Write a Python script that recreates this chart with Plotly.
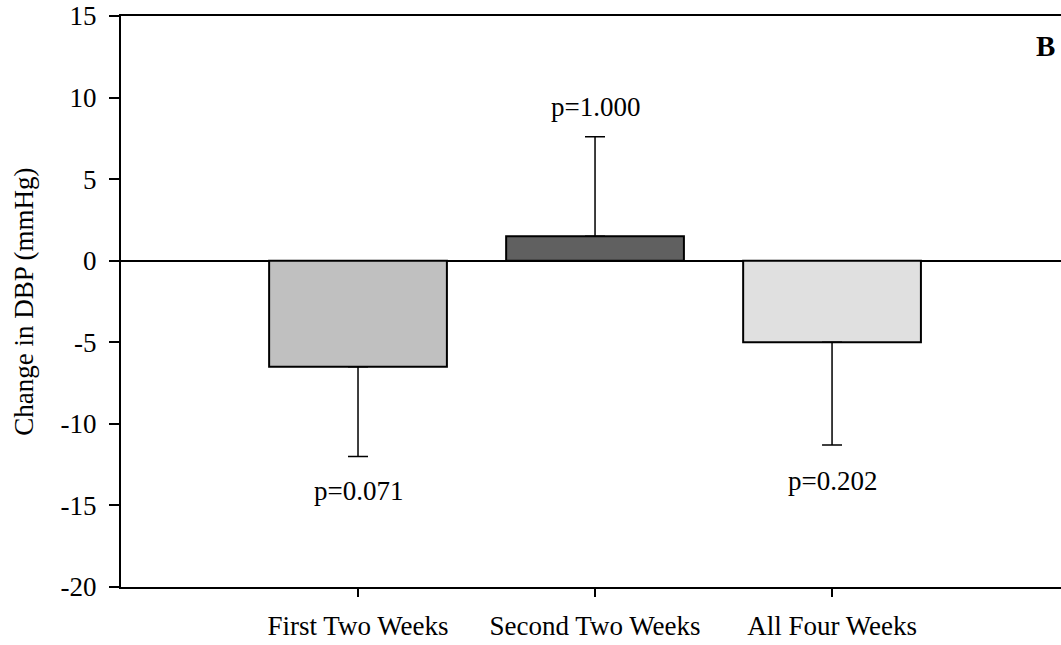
import plotly.graph_objects as go

categories = ["First Two Weeks", "Second Two Weeks", "All Four Weeks"]
means = [-6.5, 1.5, -5.0]
err_up = [0.0, 6.1, 0.0]
err_down = [5.5, 0.0, 6.3]
p_labels = ["p=0.071", "p=1.000", "p=0.202"]
p_label_y = [-14.1, 9.4, -13.5]
bar_colors = ["#c0c0c0", "#606060", "#e0e0e0"]
y_ticks = [-20, -15, -10, -5, 0, 5, 10, 15]
y_ticktext = [str(v) for v in y_ticks]

FONT = "Liberation Serif, Times New Roman, serif"
FS = 27

xpos = list(range(len(categories)))

fig = go.Figure()
fig.add_trace(go.Bar(
    x=xpos, y=means, width=0.75,
    marker=dict(color=bar_colors, line=dict(color="black", width=2)),
    error_y=dict(type="data", symmetric=False, array=err_up, arrayminus=err_down,
                 color="black", thickness=1.5, width=10),
    showlegend=False,
))

for xi, lab, ly in zip(xpos, p_labels, p_label_y):
    fig.add_annotation(x=xi, y=ly, text=lab, showarrow=False,
                       xanchor="center", yanchor="middle",
                       font=dict(family=FONT, size=FS, color="black"))

fig.add_annotation(xref="paper", yref="paper", x=0.983, y=0.948, text="<b>B</b>",
                   showarrow=False, xanchor="center", yanchor="middle",
                   font=dict(family=FONT, size=29, color="black"))

fig.add_annotation(xref="paper", yref="paper", x=-0.104, y=0.5, text="Change in DBP (mmHg)",
                   textangle=-90, showarrow=False, xanchor="center", yanchor="middle",
                   font=dict(family=FONT, size=FS, color="black"))

fig.update_layout(
    width=1061, height=645,
    margin=dict(l=121, r=0, t=16, b=58),
    plot_bgcolor="white", paper_bgcolor="white",
    font=dict(family=FONT, size=FS, color="black"),
    xaxis=dict(range=[-1, 2.966], tickvals=xpos, ticktext=categories,
               showline=True, linecolor="black", linewidth=2, mirror=True,
               ticks="outside", ticklen=8, tickwidth=2, tickcolor="black",
               showgrid=False, zeroline=False, ticklabelstandoff=6),
    yaxis=dict(range=[-20, 15], tickvals=y_ticks, ticktext=y_ticktext,
               showline=True, linecolor="black", linewidth=2, mirror=False,
               ticks="outside", ticklen=10, tickwidth=2, tickcolor="black",
               showgrid=False, zeroline=True, zerolinecolor="black", zerolinewidth=2,
               ticklabelstandoff=7),
)

fig.write_html("out.html")
